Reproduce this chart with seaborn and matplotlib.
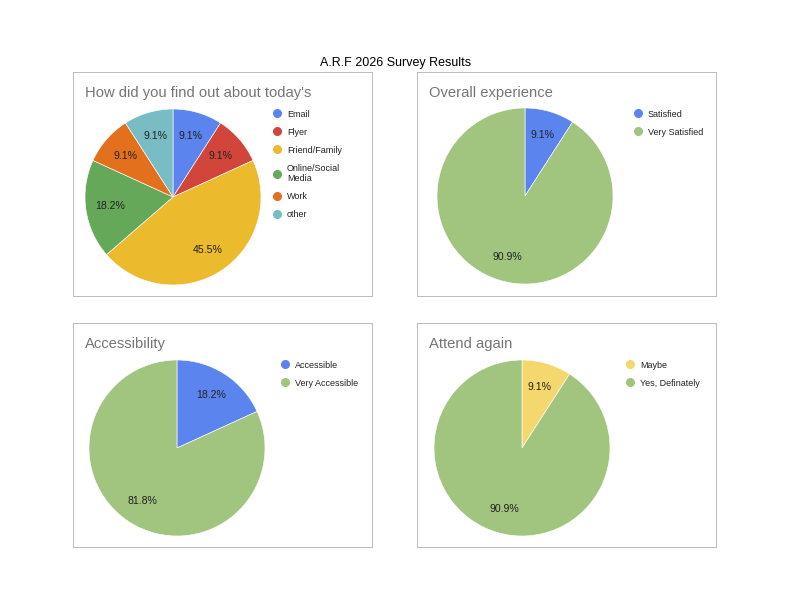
import numpy as np
import seaborn as sns
from matplotlib import pyplot as plt
from matplotlib.lines import Line2D

# survey answers (counts out of 11 responses)
source_labels = ["Email", "Flyer", "Friend/Family", "Online/Social\nMedia", "Work", "other"]
source_counts = [1, 1, 5, 2, 1, 1]
source_colors = ["#5b84ee", "#d2453b", "#ecba2d", "#66a85a", "#e3701c", "#78bcc4"]

experience_labels = ["Satisfied", "Very Satisfied"]
experience_counts = [1, 10]
experience_colors = ["#5b84ee", "#a1c47f"]

access_labels = ["Accessible", "Very Accessible"]
access_counts = [2, 9]
access_colors = ["#5b84ee", "#a1c47f"]

again_labels = ["Maybe", "Yes, Definately"]
again_counts = [1, 10]
again_colors = ["#f5d86d", "#a1c47f"]

W, H = 792, 612

sns.set_theme(style="white")
plt.rcParams["font.family"] = ["Liberation Sans", "DejaVu Sans"]

fig = plt.figure(figsize=(W / 72, H / 72), dpi=72)
fig.text(396 / W, 1 - 63 / H, "A.R.F 2026 Survey Results", ha="center", va="center",
         fontsize=12.5, color="black")


def px_rect(x0, y0, w, h):
    return [x0 / W, 1 - (y0 + h) / H, w / W, h / H]


def panel(box, title, center, labels, counts, colors, legend_xy):
    bx, by, bw, bh = box
    frame = fig.add_axes(px_rect(bx, by, bw, bh))
    frame.set_xticks([])
    frame.set_yticks([])
    for s in frame.spines.values():
        s.set_color("#bdbdbd")
        s.set_linewidth(1)
    frame.text(12 / bw, 1 - 21 / bh, title, transform=frame.transAxes, ha="left",
               va="center", fontsize=14.8, color="#757575")

    cx, cy, r = center
    ax = fig.add_axes(px_rect(cx - r, cy - r, 2 * r, 2 * r))
    ax.pie(counts, colors=colors, startangle=90, counterclock=False,
           autopct="%1.1f%%", pctdistance=0.72,
           wedgeprops=dict(linewidth=0.6, edgecolor="white"),
           textprops=dict(fontsize=10.5, color="#222222"))
    ax.set_xlim(-1, 1)
    ax.set_ylim(-1, 1)
    ax.set_aspect("equal")
    ax.axis("off")

    handles = [Line2D([], [], marker="o", linestyle="", markersize=8,
                      markerfacecolor=c, markeredgecolor=c) for c in colors]
    lx, ly = legend_xy
    fig.legend(handles, labels, loc="upper left",
               bbox_to_anchor=(lx / W, 1 - ly / H), frameon=False,
               fontsize=9, labelspacing=1.0, handletextpad=0.6,
               handlelength=1.0, borderpad=0, labelcolor="#222222")


panel((73, 72, 299, 224), "How did you find out about today's", (173, 197, 88),
      source_labels, source_counts, source_colors, (268, 105))
panel((417, 72, 299, 224), "Overall experience", (525, 196, 88),
      experience_labels, experience_counts, experience_colors, (629, 105))
panel((73, 323, 299, 224), "Accessibility", (177, 448, 88),
      access_labels, access_counts, access_colors, (276, 356))
panel((417, 323, 299, 224), "Attend again", (522, 448, 88),
      again_labels, again_counts, again_colors, (621, 356))

fig.savefig("out.png", dpi=72)
